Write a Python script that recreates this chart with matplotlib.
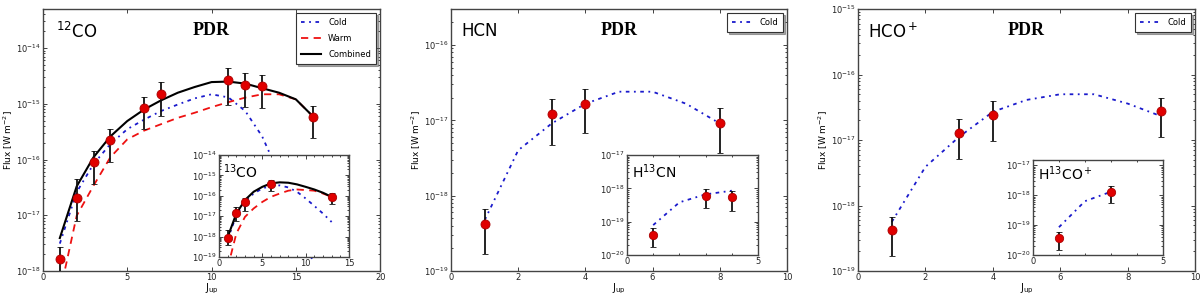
import numpy as np
import matplotlib
matplotlib.use('Agg')
import matplotlib.pyplot as plt
from matplotlib.ticker import LogLocator, NullFormatter, MultipleLocator

plt.rcParams['font.family'] = ['DejaVu Sans']
plt.rcParams['font.size'] = 6

# ---------------- 12CO ----------------
co_j = [1, 2, 3, 4, 6, 7, 11, 12, 13, 16]
co_flux = [1.66e-18, 2.0e-17, 8.9e-17, 2.2e-16, 8.5e-16, 1.5e-15, 2.65e-15, 2.2e-15, 2.1e-15, 5.9e-16]
co_hi = [2.7e-18, 4.5e-17, 1.43e-16, 3.6e-16, 1.33e-15, 2.45e-15, 4.4e-15, 3.5e-15, 3.3e-15, 9.3e-16]
co_lo = [5e-19, 8e-18, 3.6e-17, 9e-17, 3.5e-16, 6e-16, 9.7e-16, 8.7e-16, 8.4e-16, 2.4e-16]

co_mod_j = [1, 2, 3, 4, 5, 6, 7, 8, 9, 10, 11, 12, 13, 14, 15, 16]
co_cold = [3.1e-18, 2.6e-17, 8.3e-17, 1.9e-16, 3.5e-16, 5.2e-16, 7.4e-16, 9.7e-16, 1.25e-15,
           1.48e-15, 1.3e-15, 7.4e-16, 2.6e-16, 5.5e-17, 1e-17, 1.5e-18]
co_warm = [4e-19, 9.8e-18, 3.4e-17, 1.1e-16, 2.3e-16, 3.3e-16, 4.3e-16, 5.6e-16, 6.9e-16,
           8.7e-16, 1.07e-15, 1.29e-15, 1.48e-15, 1.48e-15, 1.2e-15, 6e-16]
co_comb = [3.9e-18, 3.3e-17, 1.1e-16, 2.6e-16, 4.9e-16, 7.9e-16, 1.15e-15, 1.58e-15, 2.0e-15,
           2.45e-15, 2.5e-15, 2.3e-15, 1.9e-15, 1.58e-15, 1.2e-15, 6e-16]

# ---------------- 13CO (inset) ----------------
co13_j = [1, 2, 3, 6, 13]
co13_flux = [8.9e-19, 1.45e-17, 4.9e-17, 3.9e-16, 8.9e-17]
co13_hi = [2e-18, 2.7e-17, 7.4e-17, 5.9e-16, 1.45e-16]
co13_lo = [3.7e-19, 5.9e-18, 1.8e-17, 1.7e-16, 3.9e-17]

co13_mod_j = [1, 2, 3, 4, 5, 6, 7, 8, 9, 10, 11, 12, 13]
co13_cold = [7.1e-19, 1.12e-17, 5.0e-17, 1.29e-16, 2.29e-16, 3.09e-16, 3.24e-16, 2.57e-16,
             1.58e-16, 7.4e-17, 3.2e-17, 1.35e-17, 5.2e-18]
co13_warm = [3e-20, 1.41e-18, 9.3e-18, 2.4e-17, 5.0e-17, 8.9e-17, 1.29e-16, 1.78e-16,
             2.04e-16, 1.91e-16, 1.78e-16, 1.29e-16, 8.9e-17]
co13_comb = [9.5e-19, 1.35e-17, 6.2e-17, 1.58e-16, 2.75e-16, 4.07e-16, 4.57e-16, 4.37e-16,
             3.63e-16, 2.75e-16, 2.04e-16, 1.41e-16, 8.9e-17]

# ---------------- HCN ----------------
hcn_j = [1, 3, 4, 8]
hcn_flux = [4.2e-19, 1.2e-17, 1.66e-17, 9.3e-18]
hcn_hi = [6.7e-19, 1.9e-17, 2.6e-17, 1.48e-17]
hcn_lo = [1.66e-19, 4.7e-18, 6.7e-18, 3.7e-18]
hcn_mod_j = [1, 2, 3, 4, 5, 6, 7, 8]
hcn_cold = [4.7e-19, 4.0e-18, 9.1e-18, 1.66e-17, 2.4e-17, 2.4e-17, 1.66e-17, 9.1e-18]

# ---------------- H13CN (inset) ----------------
h13cn_j = [1, 3, 4]
h13cn_flux = [4e-20, 6e-19, 5.4e-19]
h13cn_hi = [6.3e-20, 9.3e-19, 8.3e-19]
h13cn_lo = [1.7e-20, 2.5e-19, 2.1e-19]
h13cn_mod_j = [1, 2, 3, 4]
h13cn_cold = [7.9e-20, 3.8e-19, 6.6e-19, 8.5e-19]

# ---------------- HCO+ ----------------
hco_j = [1, 3, 4, 9]
hco_flux = [4.2e-19, 1.3e-17, 2.4e-17, 2.8e-17]
hco_hi = [6.7e-19, 2.1e-17, 3.9e-17, 4.4e-17]
hco_lo = [1.7e-19, 5.2e-18, 9.8e-18, 1.1e-17]
hco_mod_j = [1, 2, 3, 4, 5, 6, 7, 8, 9]
hco_cold = [5.6e-19, 3.9e-18, 1.12e-17, 2.7e-17, 4.1e-17, 5.0e-17, 5.0e-17, 3.6e-17, 2.3e-17]

# ---------------- H13CO+ (inset) ----------------
h13co_j = [1, 3]
h13co_flux = [3.7e-20, 1.23e-18]
h13co_hi = [5.7e-20, 2.0e-18]
h13co_lo = [1.5e-20, 5.3e-19]
h13co_mod_j = [1, 2, 3]
h13co_cold = [8.5e-20, 6.3e-19, 1.3e-18]

COLD = dict(color='#1a1acc', lw=1.3, ls=(0, (2, 2.5, 1, 2.5)))
WARM = dict(color='#ee1111', lw=1.3, ls=(0, (4, 3)))
COMB = dict(color='black', lw=1.5, ls='-')


def points(ax, j, f, lo, hi, ms=6.5):
    f = np.array(f)
    yerr = [f - np.array(lo), np.array(hi) - f]
    ax.errorbar(j, f, yerr=yerr, fmt='o', ms=ms, mfc='#e00000', mec='#aa0000', mew=0.6,
                ecolor='#111111', elinewidth=1.3, capsize=2, capthick=1, zorder=5)


def style(ax, xlim, ylim, xmaj, xmin=None, fs=6):
    ax.set_yscale('log')
    ax.set_xlim(*xlim)
    ax.set_ylim(*ylim)
    ax.xaxis.set_major_locator(MultipleLocator(xmaj))
    if xmin:
        ax.xaxis.set_minor_locator(MultipleLocator(xmin))
    ax.yaxis.set_major_locator(LogLocator(base=10, numticks=20))
    ax.yaxis.set_minor_locator(LogLocator(base=10, subs=np.arange(2, 10), numticks=20))
    ax.yaxis.set_minor_formatter(NullFormatter())
    ax.tick_params(which='both', direction='in', top=True, right=True, labelsize=fs,
                   colors='#222222', width=0.6, pad=1.5)
    ax.tick_params(which='major', length=3)
    ax.tick_params(which='minor', length=1.5)
    for s in ax.spines.values():
        s.set_color('#444444')
        s.set_linewidth(1.0)


def legend(ax, handles):
    lg = ax.legend(handles=handles, loc='upper right', fontsize=6, frameon=True,
                   shadow={'ox': 1.5, 'oy': -1.5, 'color': '#555555'},
                   fancybox=False, handlelength=2.5, borderpad=0.6, labelspacing=0.8,
                   framealpha=1)
    lg.get_frame().set_edgecolor('#333333')
    lg.get_frame().set_linewidth(0.8)


fig = plt.figure(figsize=(12, 2.97), dpi=100)

# panel 1
ax1 = fig.add_axes([0.0358, 0.0875, 0.281, 0.882])
c, = ax1.plot(co_mod_j, co_cold, label='Cold', **COLD)
w, = ax1.plot(co_mod_j, co_warm, label='Warm', **WARM)
k, = ax1.plot(co_mod_j, co_comb, label='Combined', **COMB)
points(ax1, co_j, co_flux, co_lo, co_hi)
style(ax1, (0, 20), (1e-18, 5e-14), 5)
ax1.set_ylabel('Flux [W m$^{-2}$]', fontsize=6.5, labelpad=1)
ax1.set_xlabel('J$_{\\rm up}$', fontsize=7, labelpad=0)
ax1.text(0.04, 0.95, '$^{12}$CO', transform=ax1.transAxes, fontsize=12, va='top')
ax1.text(0.5, 0.95, 'PDR', transform=ax1.transAxes, fontsize=13, va='top', ha='center',
         family='Liberation Serif', weight='bold')
legend(ax1, [c, w, k])

in1 = fig.add_axes([0.1825, 0.1347, 0.1083, 0.3434])
in1.plot(co13_mod_j, co13_cold, **COLD)
in1.plot(co13_mod_j, co13_warm, **WARM)
in1.plot(co13_mod_j, co13_comb, **COMB)
points(in1, co13_j, co13_flux, co13_lo, co13_hi, ms=6)
style(in1, (0, 15), (1e-19, 1e-14), 5, 1)
in1.text(0.03, 0.93, '$^{13}$CO', transform=in1.transAxes, fontsize=10, va='top')

# panel 2
ax2 = fig.add_axes([0.3758, 0.0875, 0.28, 0.882])
c2, = ax2.plot(hcn_mod_j, hcn_cold, label='Cold', **COLD)
points(ax2, hcn_j, hcn_flux, hcn_lo, hcn_hi)
style(ax2, (0, 10), (1e-19, 3e-16), 2)
ax2.set_ylabel('Flux [W m$^{-2}$]', fontsize=6.5, labelpad=1)
ax2.set_xlabel('J$_{\\rm up}$', fontsize=7, labelpad=0)
ax2.text(0.03, 0.95, 'HCN', transform=ax2.transAxes, fontsize=12, va='top')
ax2.text(0.5, 0.95, 'PDR', transform=ax2.transAxes, fontsize=13, va='top', ha='center',
         family='Liberation Serif', weight='bold')
legend(ax2, [c2])

in2 = fig.add_axes([0.5225, 0.1414, 0.1092, 0.3367])
in2.plot(h13cn_mod_j, h13cn_cold, **COLD)
points(in2, h13cn_j, h13cn_flux, h13cn_lo, h13cn_hi, ms=6)
style(in2, (0, 5), (1e-20, 1e-17), 5, 1)
in2.text(0.04, 0.93, 'H$^{13}$CN', transform=in2.transAxes, fontsize=10, va='top')

# panel 3
ax3 = fig.add_axes([0.715, 0.0875, 0.281, 0.882])
c3, = ax3.plot(hco_mod_j, hco_cold, label='Cold', **COLD)
points(ax3, hco_j, hco_flux, hco_lo, hco_hi)
style(ax3, (0, 10), (1e-19, 1e-15), 2)
ax3.set_ylabel('Flux [W m$^{-2}$]', fontsize=6.5, labelpad=1)
ax3.set_xlabel('J$_{\\rm up}$', fontsize=7, labelpad=0)
ax3.text(0.03, 0.95, 'HCO$^+$', transform=ax3.transAxes, fontsize=12, va='top')
ax3.text(0.5, 0.95, 'PDR', transform=ax3.transAxes, fontsize=13, va='top', ha='center',
         family='Liberation Serif', weight='bold')
legend(ax3, [c3])

in3 = fig.add_axes([0.8608, 0.1414, 0.1083, 0.3199])
in3.plot(h13co_mod_j, h13co_cold, **COLD)
points(in3, h13co_j, h13co_flux, h13co_lo, h13co_hi, ms=6)
style(in3, (0, 5), (1e-20, 1.5e-17), 5, 1)
in3.text(0.04, 0.95, 'H$^{13}$CO$^+$', transform=in3.transAxes, fontsize=10, va='top')

fig.savefig('out.png', dpi=100)
